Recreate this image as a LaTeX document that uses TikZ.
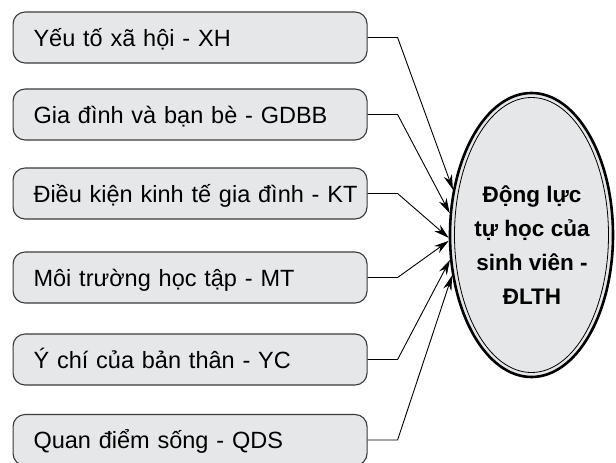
\documentclass[tikz,border=0pt]{standalone}
\usepackage{fontspec}
\setmainfont{Liberation Sans}
\usetikzlibrary{shapes.geometric,arrows.meta}
\definecolor{boxfill}{HTML}{E6E7E8}
\definecolor{boxline}{HTML}{3A3A3A}
\begin{document}
\begin{tikzpicture}[x=1pt,y=-1pt,
  factor/.style={draw=boxline, line width=1.1pt, fill=boxfill, rounded corners=12pt,
    anchor=west, minimum height=51pt, text width=340pt, inner xsep=7pt, inner ysep=0pt,
    align=left, text height=17pt, text depth=0pt, font=\fontsize{23.5}{26}\selectfont},
  link/.style={line width=0.9pt, -{Stealth[length=15pt,width=8.5pt]}}]
\useasboundingbox (0,0) rectangle (616,463);
\clip (0,0) rectangle (616,463);

% target construct
\node[ellipse, draw=black, line width=2.6pt, fill=boxfill, minimum width=163pt,
  minimum height=284pt, inner sep=0pt] (E) at (531.5,235) {};
\draw[line width=0.8pt] (E.center) ellipse [x radius=77pt, y radius=137.5pt];
\node[align=center, font=\bfseries\fontsize{22.5}{34}\selectfont] (T) at (532,245)
  {Động lực\\tự học của\\sinh viên -\\ĐLTH};

% factors
\node[factor] (B1) at (12.5,37.5) {\hspace*{13.5pt}Yếu tố xã hội - XH};
\node[factor] (B2) at (12.5,114.5) {\hspace*{13.5pt}Gia đình và bạn bè - GDBB};
\node[factor] (B3) at (12.5,193.5) {\hspace*{13.5pt}Điều kiện kinh tế gia đình - KT};
\node[factor] (B4) at (12.5,277.5) {\hspace*{13.5pt}Môi trường học tập - MT};
\node[factor] (B5) at (12.5,359.5) {\hspace*{13.5pt}Ý chí của bản thân - YC};
\node[factor] (B6) at (12.5,440) {\hspace*{13.5pt}Quan điểm sống - QDS};

% connectors: short horizontal run, then straight to the ellipse
\draw[link] (B1.east) -- ++(30,0) -- (E.150);
\draw[link] (B2.east) -- ++(30,0) -- (E.165);
\draw[link] (B3.east) -- ++(30,0) -- (E.182);
\draw[link] (B4.east) -- ++(30,0) -- (E.184.5);
\draw[link] (B5.east) -- ++(30,0) -- (E.197);
\draw[link] (B6.east) -- ++(30,0) -- (E.207);
\end{tikzpicture}
\end{document}
